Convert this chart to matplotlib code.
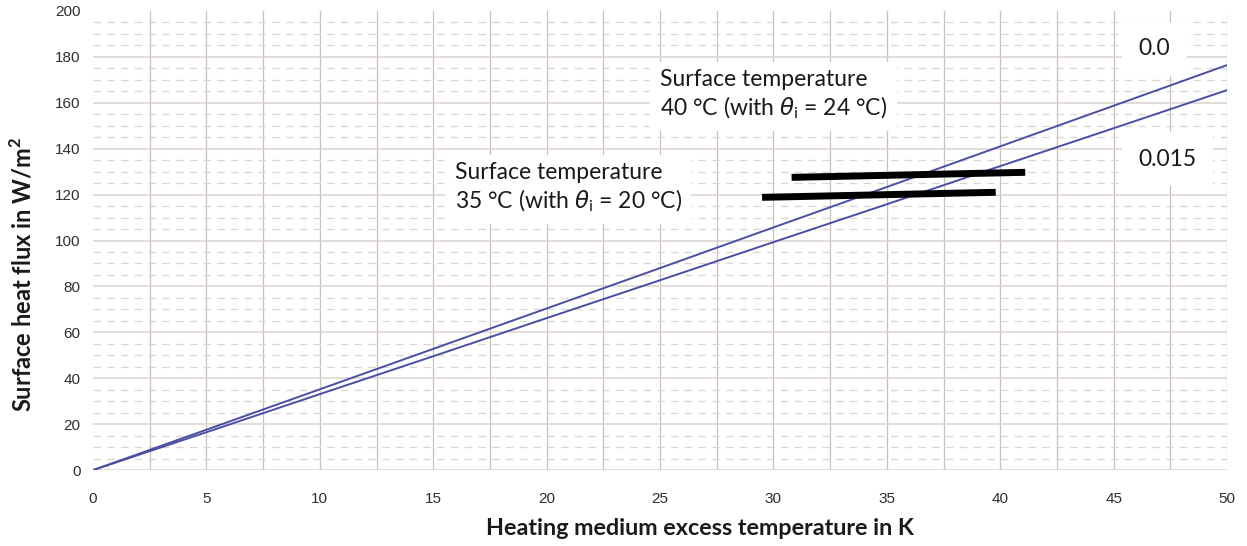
import matplotlib
matplotlib.use("Agg")
import matplotlib.pyplot as plt

# Heating medium excess temperature (K)
excess_temp = [0, 5, 10, 15, 20, 25, 30, 35, 40, 45, 50]
# Surface heat flux (W/m2) for two thermal resistances of the floor covering
flux_r000 = [0, 17.6, 35.2, 52.8, 70.4, 88.0, 105.7, 123.3, 141.0, 158.7, 176.4]
flux_r015 = [0, 16.5, 33.1, 49.6, 66.2, 82.7, 99.3, 115.8, 132.4, 148.9, 165.5]

# Limit curves for surface temperature
limit_40_x = [30.8, 41.1]
limit_40_y = [127.5, 129.7]
limit_35_x = [29.5, 39.8]
limit_35_y = [118.8, 121.0]

x_ticks = [0, 5, 10, 15, 20, 25, 30, 35, 40, 45, 50]
y_ticks = [0, 20, 40, 60, 80, 100, 120, 140, 160, 180, 200]

fig = plt.figure(figsize=(12.47, 5.46), dpi=100)
ax = fig.add_axes([0.0746, 0.139, 0.9094, 0.841])

ax.set_xlim(0, 50)
ax.set_ylim(0, 200)

# grid: vertical every 2.5 K, solid horizontal every 20, dashed every 5
for xv in [i * 2.5 for i in range(1, 21)]:
    ax.axvline(xv, color="#c9bfbd", lw=0.9, zorder=0)
for yv in range(0, 200, 5):
    if yv % 20 == 0:
        ax.axhline(yv, color="#dcd2d0", lw=1.1, zorder=0)
    else:
        ax.axhline(yv, color="#ddd5d3", lw=0.9, ls=(0, (6, 5)), zorder=0)

for s in ax.spines.values():
    s.set_visible(False)

ax.plot(excess_temp, flux_r000, color="#4a4fa3", lw=1.4, zorder=3)
ax.plot(excess_temp, flux_r015, color="#4a4fa3", lw=1.4, zorder=3)

ax.plot(limit_40_x, limit_40_y, color="black", lw=5, solid_capstyle="butt", zorder=4)
ax.plot(limit_35_x, limit_35_y, color="black", lw=5, solid_capstyle="butt", zorder=4)

ax.set_xticks(x_ticks)
ax.set_yticks(y_ticks)
ax.tick_params(length=0, labelsize=11, labelcolor="#2e2e2e", pad=9)
ax.tick_params(axis="x", pad=16)
for lab in ax.get_xticklabels() + ax.get_yticklabels():
    lab.set_family("Liberation Sans")

ax.set_xlabel("Heating medium excess temperature in K", fontsize=16.8,
              fontweight="bold", family="Lato", color="#1a1a1a", va="center")
ax.xaxis.set_label_coords(0.535, -0.1266)
ax.set_ylabel("Surface heat flux in W/m$^\\mathregular{2}$", fontsize=17,
              fontweight="bold", family="Lato", color="#1a1a1a", va="center")
ax.yaxis.set_label_coords(-0.0626, 0.426)

box = dict(facecolor="white", edgecolor="none", pad=7)
txt_kw = dict(fontsize=16.5, family="Lato", color="#1a1a1a", zorder=5,
              linespacing=1.2, va="top", ha="left")
ax.text(25.0, 174.5, "Surface temperature\n40 °C (with $\\mathit{\\theta}_\\mathregular{i}$ = 24 °C)",
        bbox=box, **txt_kw)
ax.text(15.95, 134.0, "Surface temperature\n35 °C (with $\\mathit{\\theta}_\\mathregular{i}$ = 20 °C)",
        bbox=box, **txt_kw)
lab_kw = dict(fontsize=16.5, family="Lato", color="#1a1a1a", zorder=5,
              va="center", ha="left",
              bbox=dict(facecolor="white", edgecolor="none", pad=12))
ax.text(46.1, 183.5, "0.0", **lab_kw)
ax.text(46.1, 135.5, "0.015", **lab_kw)

fig.savefig("out.png", dpi=100, facecolor="white")
